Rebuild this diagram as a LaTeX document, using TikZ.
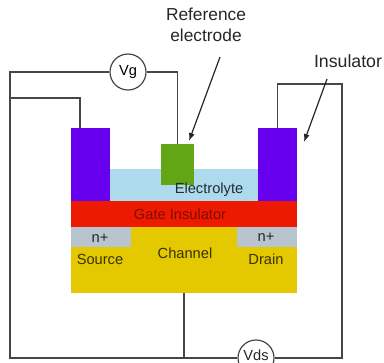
\documentclass[tikz,border=0pt]{standalone}
\usepackage{fontspec}
\setmainfont{Liberation Sans}
\usepackage{xcolor}
\usetikzlibrary{arrows.meta,positioning,calc}
\definecolor{mypurple}{RGB}{102,0,238}
\definecolor{mygreen}{RGB}{98,166,22}
\definecolor{myblue}{RGB}{174,218,238}
\definecolor{myred}{RGB}{235,26,0}
\definecolor{mygold}{RGB}{228,200,0}
\definecolor{mygray}{RGB}{184,196,206}
\definecolor{mywire}{RGB}{70,70,70}
\begin{document}
\begin{tikzpicture}[x=0.75pt,y=-0.75pt,node distance=0pt]
    \tikzstyle{b}=[inner sep=0pt, outer sep=0pt, align=center]
    \tikzstyle{t}=[inner sep=0pt, align=center, text=black!85, font=\fontsize{11}{13}\selectfont]
    \tikzstyle{meter}=[draw=mywire, circle, line width=0.9pt, minimum size=27pt, inner sep=0pt, font=\fontsize{11}{13}\selectfont]
    \tikzstyle{wire}=[draw=mywire, line width=0.9pt]
    \tikzstyle{pointer}=[draw=black!85, line width=0.9pt, -{Latex[length=6pt,width=4.5pt]}]
    \clip (0,0) rectangle (384,362);
    % device stack
    \node[b, fill=mygold, minimum width=169.5pt, minimum height=49.5pt, anchor=north west] (channel) at (71,227) {};
    \node[b, fill=myred, minimum width=169.5pt, minimum height=19.5pt, above=of channel] (gate) {};
    \node[b, fill=myblue, minimum width=111pt, minimum height=24pt, above=of gate] (electrolyte) {};
    \node[b, fill=mypurple, minimum width=29.25pt, minimum height=54.75pt, left=of electrolyte.south west, anchor=south east] (insleft) {};
    \node[b, fill=mypurple, minimum width=29.25pt, minimum height=54.75pt, right=of electrolyte.south east, anchor=south west] (insright) {};
    \node[b, fill=mygreen, minimum width=24.75pt, minimum height=30.75pt, anchor=north west] (refel) at (161,144) {};
    \node[b, fill=mygray, minimum width=45pt, minimum height=15pt, anchor=north west] (source) at (channel.north west) {};
    \node[b, fill=mygray, minimum width=45pt, minimum height=15pt, anchor=north east] (drain) at (channel.north east) {};
    % texts
    \node[t, text=black!80!myblue] (electrolytetext) at (209,190) {Electrolyte};
    \node[t, text=myred!55!black] (gatetext) at (180,214) {Gate Insulator};
    \node[t] (sourcen) at (100,238) {n+};
    \node[t] (drainn) at (266,237) {n+};
    \node[t, text=mygold!25!black] (sourcetext) at (100,259) {Source};
    \node[t, text=mygold!25!black] (draintext) at (266,259) {Drain};
    \node[t, text=mygold!25!black] (channeltext) at (185,253) {Channel};
    \node[t, font=\fontsize{13}{15.75}\selectfont] (reflabel) at (206,25) {Reference\\electrode};
    \node[t, font=\fontsize{13.3}{15}\selectfont] (inslabel) at (348,61) {Insulator};
    % meters
    \node[meter] (vg) at (128,72) {Vg};
    \node[meter] (vds) at (256,358) {};
    \node[t] (vdstext) at (256,355) {Vds};
    % wires
    \coordinate (lefttop) at (10,72);
    \coordinate (leftmid) at (10,98);
    \coordinate (leftbot) at (10,358);
    \coordinate (righttop) at (342,84);
    \coordinate (rightbot) at (342,358);
    \coordinate (chanbot) at (184,358);
    \draw[wire] (vg) -- (lefttop) -- (leftbot) -- (vds);
    \draw[wire] (vg) -| (refel);
    \draw[wire] (leftmid) -| ($(insleft.north west)+(9,0)$);
    \draw[wire] (insright.north) -- (insright.north |- righttop) -- (righttop) -- (rightbot) -- (vds);
    \draw[wire] (channel.south -| chanbot) -- (chanbot);
    % arrows
    \coordinate (refstart) at (220,57);
    \coordinate (refhead) at (189,141);
    \coordinate (insstart) at (327,79);
    \coordinate (inshead) at (304,142);
    \draw[pointer] (refstart) -- (refhead);
    \draw[pointer] (insstart) -- (inshead);
  \end{tikzpicture}
\end{document}
